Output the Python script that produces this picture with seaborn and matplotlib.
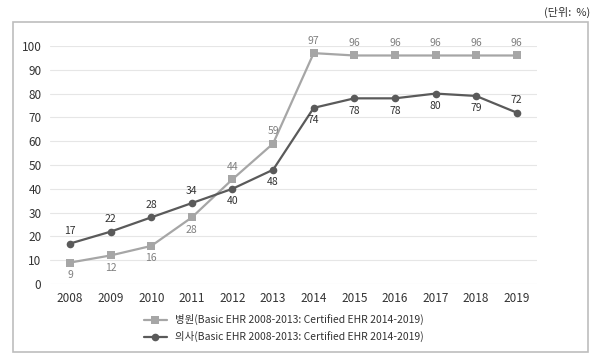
import matplotlib
matplotlib.use("Agg")
import matplotlib.pyplot as plt
import seaborn as sns
import pandas as pd
from matplotlib.patches import Rectangle

years = [2008, 2009, 2010, 2011, 2012, 2013, 2014, 2015, 2016, 2017, 2018, 2019]
hospital = [9, 12, 16, 28, 44, 59, 97, 96, 96, 96, 96, 96]
doctor = [17, 22, 28, 34, 40, 48, 74, 78, 78, 80, 79, 72]
hospital_name = "병원(Basic EHR 2008-2013: Certified EHR 2014-2019)"
doctor_name = "의사(Basic EHR 2008-2013: Certified EHR 2014-2019)"
yticks = [0, 10, 20, 30, 40, 50, 60, 70, 80, 90, 100]
unit_text = "(단위:  %)"
# label placement: +1 above, -1 below
hosp_pos = [-1, -1, -1, -1, 1, 1, 1, 1, 1, 1, 1, 1]
doc_pos = [1, 1, 1, 1, -1, -1, -1, -1, -1, -1, -1, 1]

sns.set_style("white")
plt.rcParams['font.family'] = ['Noto Sans CJK KR', 'DejaVu Sans']

df = pd.DataFrame({
    "x": list(range(len(years))) * 2,
    "v": hospital + doctor,
    "s": [hospital_name] * len(years) + [doctor_name] * len(years),
})

fig = plt.figure(figsize=(6, 3.62), dpi=100)
fig.patches.append(Rectangle((0.0217, 0.0276), 0.958, 0.911, transform=fig.transFigure,
                             fill=False, edgecolor="#bdbdbd", linewidth=1.2))
ax = fig.add_axes([0.083, 0.2155, 0.812, 0.6575])

c_h = "#a6a6a6"
c_d = "#5a5a5a"
sns.lineplot(data=df, x="x", y="v", hue="s", style="s",
             palette={hospital_name: c_h, doctor_name: c_d},
             markers={hospital_name: "s", doctor_name: "o"},
             dashes=False, markersize=5.5, linewidth=1.6, markeredgewidth=0,
             ax=ax, clip_on=False)

for i, (h, p) in enumerate(zip(hospital, hosp_pos)):
    ax.annotate(str(h), (i, h), xytext=(0, 9 * p), textcoords="offset points",
                ha="center", va="center", fontsize=7.5, color="#808080")
for i, (d, p) in enumerate(zip(doctor, doc_pos)):
    ax.annotate(str(d), (i, d), xytext=(0, 9 * p), textcoords="offset points",
                ha="center", va="center", fontsize=7.5, color="#333333")

ax.set_xlim(-0.5, len(years) - 0.5)
ax.set_ylim(0, 100)
ax.set_yticks(yticks)
ax.set_xticks(range(len(years)))
ax.set_xticklabels([str(y) for y in years])
ax.grid(axis="y", color="#e6e6e6", linewidth=0.8)
for sp in ax.spines.values():
    sp.set_visible(False)
ax.tick_params(axis="both", length=0, labelsize=8.5, colors="#333333", pad=6)
ax.set_xlabel("")
ax.set_ylabel("")

leg = ax.legend(loc="upper center", bbox_to_anchor=(0.48, -0.11), frameon=False,
                fontsize=7.5, handlelength=2.2, labelspacing=0.55, borderaxespad=0)
for t in leg.get_texts():
    t.set_color("#333333")

fig.text(0.983, 0.965, unit_text, ha="right", va="center", fontsize=8, color="#333333")

fig.savefig("out.png", dpi=100)
